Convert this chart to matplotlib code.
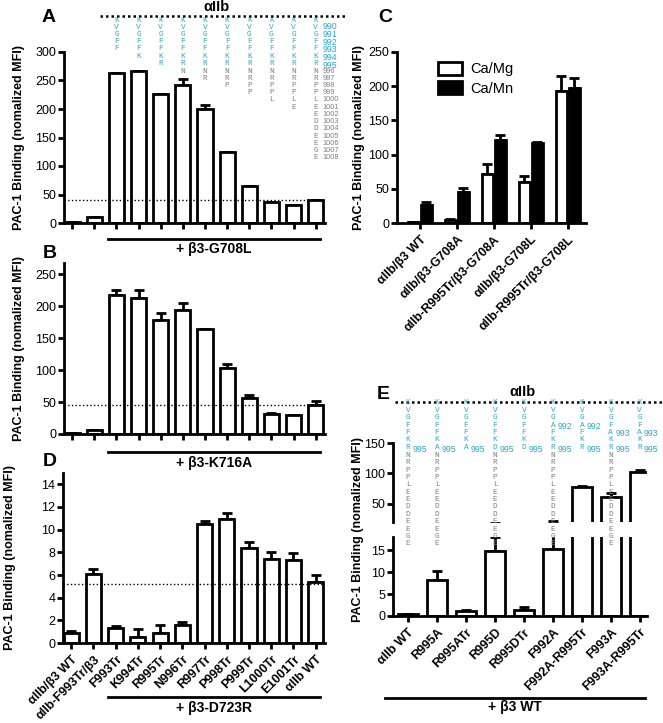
import numpy as np
import matplotlib
matplotlib.use("Agg")
import matplotlib.pyplot as plt
from matplotlib.lines import Line2D
from matplotlib.transforms import blended_transform_factory as blend

plt.rcParams['font.family'] = ['Liberation Sans', 'DejaVu Sans']
plt.rcParams['font.size'] = 9

W, H = 663, 723
CYAN = '#2ea8cc'
GREY = '#808080'
LW = 2.0
YLAB = "PAC-1 Binding (nomalized MFI)"

# --- A: aIIb truncations + b3-G708L
a_vals = [1, 10, 264, 267, 226, 242, 200, 125, 65, 37, 32, 40]
a_err = [0, 0, 0, 0, 0, 10, 7, 0, 0, 0, 0, 0]
a_wt = 40
# --- B: same truncations + b3-K716A
b_vals = [1, 6, 218, 213, 179, 194, 164, 103, 57, 31, 30, 45]
b_err = [0, 0, 8, 13, 10, 12, 0, 7, 4, 2, 0, 7]
b_wt = 45
# --- D: same truncations + b3-D723R
d_labels = ["αIIb/β3 WT", "αIIb-F993Tr/β3", "F993Tr", "K994Tr", "R995Tr", "N996Tr",
            "R997Tr", "P998Tr", "P999Tr", "L1000Tr", "E1001Tr", "αIIb WT"]
d_vals = [0.9, 6.1, 1.3, 0.5, 0.9, 1.6, 10.5, 10.9, 8.4, 7.4, 7.35, 5.4]
d_err = [0.2, 0.45, 0.2, 0.7, 0.7, 0.25, 0.3, 0.6, 0.55, 0.65, 0.6, 0.6]
d_wt = 5.2
# --- C: Ca/Mg vs Ca/Mn
c_labels = ["αIIb/β3 WT", "αIIb/β3-G708A", "αIIb-R995Tr/β3-G708A",
            "αIIb/β3-G708L", "αIIb-R995Tr/β3-G708L"]
c_mg = [1, 5, 72, 60, 193]
c_mg_err = [0, 1, 14, 8, 22]
c_mn = [27, 45, 122, 117, 197]
c_mn_err = [4, 6, 7, 1, 15]
# --- E: point mutants + b3 WT
e_labels = ["αIIb WT", "R995A", "R995ATr", "R995D", "R995DTr", "F992A",
            "F992A-R995Tr", "F993A", "F993A-R995Tr"]
e_vals = [0.4, 8.2, 1.2, 14.7, 1.4, 15.3, 78, 61, 102]
e_err = [0, 2.0, 0.2, 3.2, 0.6, 7.0, 1, 6, 4]

# sequence annotations (residues 989-1008)
SEQ = "KVGFFKRNRPPLEEDDEEGE"
SEQ_START = 989
a_seq_len = [5, 6, 7, 8, 9, 10, 11, 12, 13, 20]   # bars 3..12 of A
e_seqs = ["KVGFFKRNRPPLEEDDEEGE", "KVGFFKANRPPLEEDDEEGE", "KVGFFKA",
          "KVGFFKDNRPPLEEDDEEGE", "KVGFFKD", "KVGAFKRNRPPLEEDDEEGE", "KVGAFKR",
          "KVGFAKRNRPPLEEDDEEGE", "KVGFAKR"]
e_marks = [[995], [995], [995], [995], [995], [992, 995], [992, 995],
           [993, 995], [993, 995]]
N_CYAN = 7   # 989..995 drawn in cyan


def fx(px):
    return px / W


def fy(py):
    return 1 - py / H


fig = plt.figure(figsize=(W / 100, H / 100), dpi=100)
rend = fig.canvas.get_renderer()


def line_step(**kw):
    # baseline-to-baseline distance in px for linespacing=1
    t1 = fig.text(0, 0, "K", **kw)
    t2 = fig.text(0, 0, "K\nK", linespacing=1, **kw)
    d = t2.get_window_extent(rend).height - t1.get_window_extent(rend).height
    t1.remove(); t2.remove()
    return d


def stack(x, y_px, lines, step, tr, **kw):
    """multi-line column, first baseline at y_px, rows `step` px apart"""
    if not lines:
        return
    s1 = line_step(fontsize=kw['fontsize'], family=kw.get('family'))
    fig.text(x, fy(y_px - s1), "\n".join(lines), transform=tr, va='top',
             linespacing=step / s1, **kw)


def style(ax, bottom=True):
    for s in ['top', 'right']:
        ax.spines[s].set_visible(False)
    ax.spines['left'].set_linewidth(LW)
    ax.spines['bottom'].set_linewidth(LW)
    if not bottom:
        ax.spines['bottom'].set_visible(False)
    ax.tick_params(width=LW, length=4, labelsize=9, direction='out')
    ax.tick_params(axis='y', pad=1.5)


def bars(ax, x, vals, err, width, fc='white'):
    ax.bar(x, vals, width, color=fc, edgecolor='black', linewidth=LW, zorder=2)
    err = np.asarray(err, float)
    ax.errorbar(x, vals, yerr=[np.zeros(len(err)), err], fmt='none', ecolor='black',
                elinewidth=LW, capsize=3.5, capthick=LW, zorder=1)


def group_line(x0, x1, y, label, ty):
    fig.add_artist(Line2D([fx(x0), fx(x1)], [fy(y), fy(y)], color='black', lw=LW,
                          transform=fig.transFigure))
    fig.text(fx((x0 + x1) / 2), fy(ty), label, ha='center', va='center',
             fontweight='bold', fontsize=10)


def aiib_header(x0, x1, y, tx, ty):
    fig.add_artist(Line2D([fx(x0), fx(x1)], [fy(y), fy(y)], color='black', lw=1.8,
                          ls=(0, (1, 1.2)), transform=fig.transFigure))
    fig.text(fx(tx), fy(ty), "αIIb", ha='center', va='center', fontweight='bold',
             fontsize=10.5)


def trunc_panel(rect, vals, err, wt, ylim, ticks, letter, lpos, lab_x):
    ax = fig.add_axes(rect)
    x = np.arange(len(vals))
    bars(ax, x, vals, err, 0.68)
    ax.axhline(wt, ls=':', lw=1, color='black', zorder=3)
    ax.set_xlim(-0.37, 11.42)
    ax.set_ylim(*ylim)
    ax.set_yticks(ticks)
    ax.set_xticks(x)
    ax.set_xticklabels([])
    style(ax)
    ax.set_ylabel(YLAB, fontweight='bold', fontsize=9)
    ax.yaxis.set_label_coords(lab_x, 0.5)
    fig.text(fx(lpos[0]), fy(lpos[1]), letter, fontweight='bold', fontsize=14,
             ha='center', va='center')
    return ax


LET = dict(fontsize=5.6, family='Liberation Mono', ha='center')

# ---------------- A
axA = trunc_panel([fx(64), fy(223), 261 / W, 171 / H], a_vals, a_err, a_wt, (0, 300),
                  range(0, 301, 50), "A", (49, 17), -0.15)
aiib_header(100, 346, 16, 217, 7)
trA = blend(axA.transData, fig.transFigure)
A0, AS = 23.5, 7.3
for k, n in enumerate(a_seq_len):
    letters = list(SEQ[:n])
    stack(k + 2, A0, letters[:N_CYAN], AS, trA, color=CYAN, **LET)
    stack(k + 2, A0 + AS * N_CYAN, letters[N_CYAN:], AS, trA, color=GREY, **LET)
nums = [str(SEQ_START + i) for i in range(1, 20)]
stack(11.3, A0 + AS + 0.5, nums[:N_CYAN - 1], AS, trA, color=CYAN, fontsize=6.3,
      ha='left')
stack(11.3, A0 + AS * N_CYAN, nums[N_CYAN - 1:], AS, trA, color=GREY, fontsize=5.3,
      ha='left')
group_line(108, 320, 239, "+ β3-G708L", 249)

# ---------------- B
trunc_panel([fx(64), fy(434), 261 / W, 171 / H], b_vals, b_err, b_wt, (0, 268),
            range(0, 251, 50), "B", (50, 253), -0.15)
group_line(108, 320, 452, "+ β3-K716A", 463)

# ---------------- D
axD = trunc_panel([fx(63), fy(643), 262 / W, 170 / H], d_vals, d_err, d_wt, (0, 15),
                  range(0, 15, 2), "D", (50, 462), -0.18)
axD.set_xticklabels(d_labels, rotation=45, ha='right', rotation_mode='anchor',
                    fontweight='bold', fontsize=9)
group_line(108, 320, 697, "+ β3-D723R", 708)

# ---------------- C
axC = fig.add_axes([fx(397), fy(223), 189 / W, 171 / H])
xc = np.arange(len(c_labels))
bars(axC, xc - 0.175, c_mg, c_mg_err, 0.3, fc='white')
bars(axC, xc + 0.175, c_mn, c_mn_err, 0.3, fc='black')
axC.set_xlim(-0.62, 4.49)
axC.set_ylim(0, 250)
axC.set_yticks(range(0, 251, 50))
axC.set_xticks(xc)
axC.set_xticklabels(c_labels, rotation=45, ha='right', rotation_mode='anchor',
                    fontweight='bold', fontsize=9)
style(axC)
axC.set_ylabel(YLAB, fontweight='bold', fontsize=9)
axC.yaxis.set_label_coords(-0.17, 0.5)
hs = [plt.Rectangle((0, 0), 1, 1, fc=c, ec='black', lw=LW) for c in ('white', 'black')]
axC.legend(hs, ["Ca/Mg", "Ca/Mn"], loc='upper left', bbox_to_anchor=(0.15, 1.02),
           frameon=False, fontsize=10.5, handlelength=1.6, handleheight=1.0,
           labelspacing=0.35, handletextpad=0.6)
fig.text(fx(385), fy(17), "C", fontweight='bold', fontsize=14, ha='center', va='center')

# ---------------- E (broken axis)
axEu = fig.add_axes([fx(393), fy(522), 254 / W, 79 / H])
axEl = fig.add_axes([fx(393), fy(616), 254 / W, 79 / H])
xe = np.arange(len(e_vals))
for ax in (axEu, axEl):
    bars(ax, xe, e_vals, e_err, 0.69)
    ax.set_xlim(-0.52, 8.25)
axEu.set_ylim(20, 150)
axEu.set_yticks([50, 100, 150])
axEu.set_xticks([])
style(axEu, bottom=False)
axEl.set_ylim(0, 18)
axEl.set_yticks([0, 5, 10, 15])
axEl.set_xticks(xe)
axEl.set_xticklabels(e_labels, rotation=45, ha='right', rotation_mode='anchor',
                     fontweight='bold', fontsize=9)
style(axEl)
fig.text(fx(358), fy(530), YLAB, rotation=90, ha='center', va='center',
         fontweight='bold', fontsize=9)
fig.text(fx(383), fy(395), "E", fontweight='bold', fontsize=14, ha='center', va='center')
aiib_header(395, 662, 402, 522, 392)
trE = blend(axEl.transData, fig.transFigure)
E0, ES = 406.5, 7.5
for k, s in enumerate(e_seqs):
    letters = list(s)
    stack(k, E0, letters[:N_CYAN], ES, trE, color=CYAN, **LET)
    stack(k, E0 + ES * N_CYAN, letters[N_CYAN:], ES, trE, color=GREY, **LET)
    for res in e_marks[k]:
        i = res - SEQ_START
        fig.text(k + 0.15, fy(E0 + ES * i), str(res), transform=trE, ha='left',
                 va='baseline', fontsize=6.3, color=CYAN)
group_line(385, 645, 698, "+ β3 WT", 707)

fig.savefig("out.png", dpi=100)
